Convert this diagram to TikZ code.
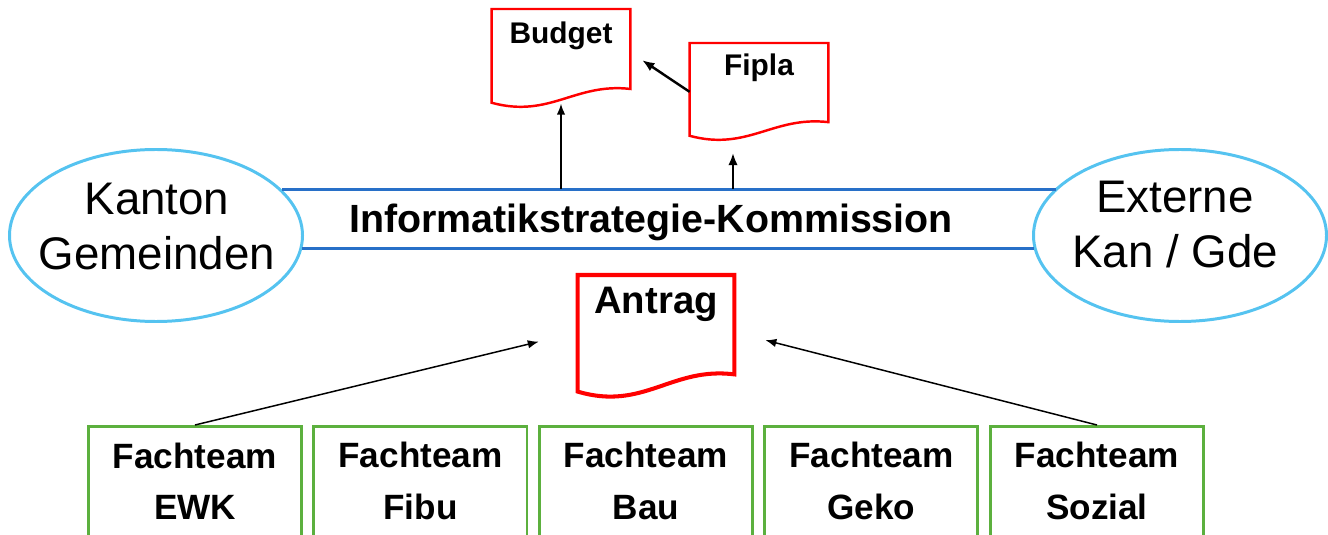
\documentclass[tikz,border=0pt]{standalone}
\usepackage{fontspec}
\setmainfont{Liberation Sans}
\usetikzlibrary{positioning, calc, shapes.geometric, arrows.meta}

\definecolor{ellblue}{RGB}{85,195,240}
\definecolor{barblue}{RGB}{40,112,200}
\definecolor{teamgreen}{RGB}{92,176,62}

% paper sheet with wavy lower edge round a node
\newcommand{\docframe}[2]{%
  \draw[#2] let \p1=(#1.north west), \p2=(#1.south east),
     \n1={\x2-\x1}, \n2={\y1-\y2} in
     (\p1) -- (\x2,\y1) -- (\x2,{\y1-0.81*\n2})
     .. controls ({\x1+0.6*\n1},{\y1-0.745*\n2}) and ({\x1+0.42*\n1},{\y1-1.11*\n2})
     .. (\x1,{\y1-0.95*\n2}) -- cycle;}

\begin{document}
\begin{tikzpicture}[x=0.2mm, y=-0.2mm,
     node distance = 0.19cm and 0.19cm,
       party/.style = {ellipse, draw=ellblue, line width=1.7pt,
                      minimum width=5.86cm, minimum height=3.44cm},
   partytext/.style = {inner sep=0pt, align=center,
                      font=\fontsize{26}{31.5}\selectfont},
         doc/.style = {inner sep=0pt, anchor=north,
                      font=\bfseries\fontsize{17}{20}\selectfont},
        team/.style = {rectangle, draw=teamgreen, line width=1.7pt,
                      minimum width=4.26cm, minimum height=2.19cm,
                      align=center, inner sep=0pt,
                      font=\bfseries\fontsize{20}{29.5}\selectfont},
         arr/.style = {-{Latex[length=0.22cm,width=0.17cm]}, line width=0.85pt},
         bar/.style = {draw=barblue, line width=2pt}
                        ]
\useasboundingbox (0,0) rectangle (1328,535);
\node (kanton) [party] at (156,235.5) {};
\node (externe) [party] at (1180,235.5) {};
\node (kantontxt) [partytext] at (157,226.5) {Kanton\\Gemeinden};
\node (externetxt) [partytext] at (1175,224.5) {Externe\\Kan / Gde};
\node (iks) [inner sep=0pt, minimum height=1.21cm, text height=0.7cm, text depth=0.16cm,
             font=\bfseries\fontsize{22.4}{26}\selectfont] at (651,219.5)
             {Informatikstrategie-Kommission};
\draw[bar] (kanton.20.4) -- (kanton.20.4 -| externe.159.6);
\draw[bar] (kanton.-5.7) -- (kanton.-5.7 -| externe.185.7);
% documents
\node (budget) [doc, minimum width=2.76cm, text height=0.68cm, text depth=1.28cm]
      at (561,9) {Budget};
\node (fipla) [doc, minimum width=2.76cm, text height=0.64cm, text depth=1.30cm]
      at (759,43) {Fipla};
\node (antrag) [doc, minimum width=3.12cm, text height=0.76cm, text depth=1.68cm,
      font=\bfseries\fontsize{21.8}{26}\selectfont] at (656,275) {Antrag};
\docframe{budget}{draw=red, line width=1.4pt}
\docframe{fipla}{draw=red, line width=1.4pt}
\docframe{antrag}{draw=red, line width=2.3pt}
% teams
\node (ewk) [team] at (195,481.25) {Fachteam\\EWK};
\node (fibu) [team, right=of ewk] {Fachteam\\Fibu};
\node (bau) [team, right=of fibu] {Fachteam\\Bau};
\node (geko) [team, right=of bau] {Fachteam\\Geko};
\node (sozial) [team, right=of geko] {Fachteam\\Sozial};
% arrows
\coordinate (fiplafoot) at ([xshift=-0.52cm]fipla.south);
\draw[arr] (iks.north -| budget.south) -- ([yshift=0.08cm]budget.south);
\draw[arr, line width=1.4pt, -{Latex[length=0.25cm,width=0.19cm]}]
      (iks.north -| fiplafoot) -- ([yshift=-0.24cm]fiplafoot);
\draw[arr, line width=1.4pt, -{Latex[length=0.25cm,width=0.19cm]}, shorten >=0.28cm]
      (fipla.west) -- (budget.5);
\draw[arr, shorten >=0.8cm] (ewk.north) -- (antrag.177);
\draw[arr, shorten >=0.64cm] (sozial.north) -- (antrag.3);
\end{tikzpicture}
\end{document}
